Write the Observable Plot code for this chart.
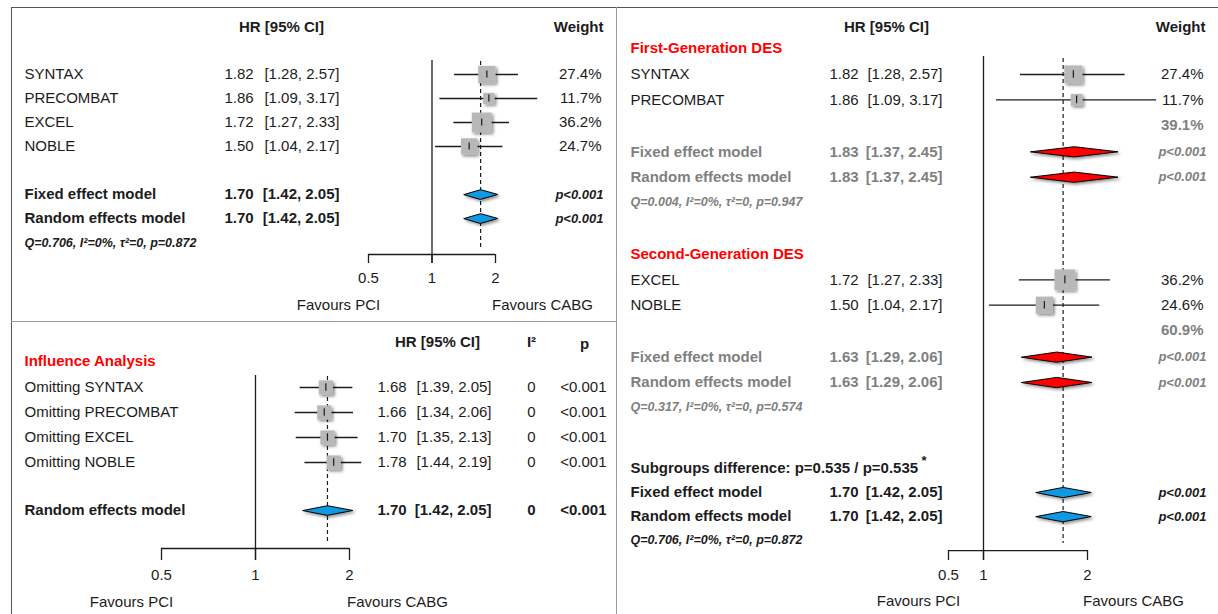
<!DOCTYPE html>
<html>
<head>
<meta charset="utf-8">
<script src="https://cdn.jsdelivr.net/npm/d3@7"></script>
<script src="https://cdn.jsdelivr.net/npm/@observablehq/plot@0.6"></script>
<style>
  body { margin: 0; background: #fff; }
  #figure { position: relative; width: 1218px; height: 614px; background: #fff; overflow: hidden; }
  .panel, .edge { position: absolute; }
  .panel svg { display: block; }
</style>
</head>
<body>
<div id="figure"></div>
<script>
// ---- Overall meta-analysis: PCI vs CABG, hazard ratios ----
const studies = ["SYNTAX", "PRECOMBAT", "EXCEL", "NOBLE"];
const studyHR = [1.82, 1.86, 1.72, 1.50];
const studyLo = [1.28, 1.09, 1.27, 1.04];
const studyHi = [2.57, 3.17, 2.33, 2.17];
const studyWeight = [27.4, 11.7, 36.2, 24.7];

const modelNames = ["Fixed effect model", "Random effects model"];
const pooledHR = 1.70;
const pooledLo = 1.42;
const pooledHi = 2.05;
const pooledI2 = 0;
const pooledP = "<0.001";
const overallHet = "Q=0.706, I²=0%, τ²=0, p=0.872";

// ---- Leave-one-out influence analysis ----
const omitHR = [1.68, 1.66, 1.70, 1.78];
const omitLo = [1.39, 1.34, 1.35, 1.44];
const omitHi = [2.05, 2.06, 2.13, 2.19];
const omitI2 = [0, 0, 0, 0];
const omitP = ["<0.001", "<0.001", "<0.001", "<0.001"];

// ---- Subgroups by stent generation ----
const subgroupTitles = ["First-Generation DES", "Second-Generation DES"];
const subgroupMembers = [["SYNTAX", "PRECOMBAT"], ["EXCEL", "NOBLE"]];
const subgroupStudyWeight = [[27.4, 11.7], [36.2, 24.6]];
const subgroupTotalWeight = [39.1, 60.9];
const subgroupHR = [1.83, 1.63];
const subgroupLo = [1.37, 1.29];
const subgroupHi = [2.45, 2.06];
const subgroupHet = ["Q=0.004, I²=0%, τ²=0, p=0.947", "Q=0.317, I²=0%, τ²=0, p=0.574"];
const subgroupDiff = "Subgroups difference: p=0.535 / p=0.535";

const axisTicks = [0.5, 1, 2];

// ---- styling ----
const FONT = "Liberation Sans, Arial, Helvetica, sans-serif";
const INK = "#1c1c1c";
const MUTED = "#7f7f7f";
const TITLE_RED = "#ff0000";
const SUB_FILL = "#ff0000";
const POOL_FILL = "#0f9ae3";
const BOX_FILL = "#b8b8b8";

const f2 = d3.format(".2f");
const f1 = d3.format(".1f");
const ciText = d => `[${f2(d.lo)}, ${f2(d.hi)}]`;
const hrText = d => f2(d.hr);

// text column placed at a pixel offset from the panel's left edge
function col(rows, x, text, o = {}) {
  return Plot.text(rows, {
    y: "slot", frameAnchor: "left", dx: x, text,
    textAnchor: o.anchor ?? "start",
    fontSize: o.size ?? 15,
    fontWeight: o.weight ?? "normal",
    fontStyle: o.style ?? "normal",
    fill: o.fill ?? INK,
    fontFamily: FONT
  });
}
const label = (slot, x, str, o) => col([{slot}], x, () => str, o);

function studyMarks(rows, r) {
  return [
    Plot.ruleY(rows, {y: "slot", x1: "lo", x2: "hi", stroke: INK, strokeWidth: 1.3}),
    Plot.dot(rows, {x: "hr", y: "slot", r, symbol: "square", fill: BOX_FILL, stroke: "none"}),
    Plot.ruleX(rows, {x: "hr", y1: d => d.slot - 0.15, y2: d => d.slot + 0.15, stroke: INK, strokeWidth: 1.2})
  ];
}

function diamonds(rows, fill, h) {
  const pts = rows.flatMap((d, i) => [
    {k: i, x: d.lo, y: d.slot},
    {k: i, x: d.hr, y: d.slot - h},
    {k: i, x: d.hi, y: d.slot},
    {k: i, x: d.hr, y: d.slot + h}
  ]);
  return Plot.line(pts, {x: "x", y: "y", z: "k", curve: "linear-closed", fill, stroke: "#000", strokeWidth: 1});
}

function refLines(top, bottom, dashTop, dashBottom) {
  return [
    Plot.ruleX([1], {x: d => d, y1: () => top, y2: () => bottom, stroke: INK, strokeWidth: 1.3}),
    Plot.ruleX([pooledHR], {x: d => d, y1: () => dashTop, y2: () => dashBottom, stroke: INK, strokeWidth: 1.2, strokeDasharray: "4,3"})
  ];
}

function axisMarks(axisSlot, tickEnd, labelSlot) {
  return [
    Plot.ruleY([axisSlot], {y: d => d, x1: () => axisTicks[0], x2: () => axisTicks[axisTicks.length - 1], stroke: INK, strokeWidth: 1.3}),
    Plot.ruleX(axisTicks, {x: d => d, y1: () => axisSlot, y2: () => tickEnd, stroke: INK, strokeWidth: 1.3}),
    Plot.text(axisTicks, {x: d => d, y: () => labelSlot, text: d => String(d), fontSize: 15, fill: INK, fontFamily: FONT})
  ];
}

function addShadow(svg, id) {
  const s = d3.select(svg);
  const f = s.insert("defs", ":first-child").append("filter")
    .attr("id", id).attr("x", "-40%").attr("y", "-80%").attr("width", "180%").attr("height", "260%");
  f.append("feDropShadow").attr("dx", 1.8).attr("dy", 1.8).attr("stdDeviation", 1.5)
    .attr("flood-color", "#000").attr("flood-opacity", 0.45);
  s.selectAll('g[aria-label="dot"], g[aria-label="line"]').attr("filter", `url(#${id})`);
}

const figure = document.getElementById("figure");
function mount(svg, left, top, id) {
  addShadow(svg, id);
  const div = document.createElement("div");
  div.className = "panel";
  div.style.left = left + "px";
  div.style.top = top + "px";
  div.appendChild(svg);
  figure.appendChild(div);
}
function edge(left, top, width, height, color) {
  const div = document.createElement("div");
  div.className = "edge";
  Object.assign(div.style, {left: left + "px", top: top + "px", width: width + "px", height: height + "px", background: color});
  figure.appendChild(div);
}

const plotStyle = {background: "transparent", overflow: "visible", fontFamily: FONT};

// ================= Overall forest plot =================
{
  const studyRows = studies.map((name, i) => ({name, hr: studyHR[i], lo: studyLo[i], hi: studyHi[i], w: studyWeight[i], slot: i}));
  const modelRows = modelNames.map((name, j) => ({name, hr: pooledHR, lo: pooledLo, hi: pooledHi, p: "p" + pooledP, slot: 5 + j}));

  const svg = Plot.plot({
    width: 604, height: 313, margin: 0,
    x: {type: "log", domain: [0.5, 2], range: [356, 483], axis: null},
    y: {type: "linear", domain: [0, 10], range: [66, 306], axis: null},
    r: {type: "sqrt", domain: [0, 100], range: [0, 18.6]},
    style: plotStyle,
    marks: [
      label(-1.96, 269, "HR [95% CI]", {anchor: "middle", weight: "bold"}),
      label(-1.96, 591, "Weight", {anchor: "end", weight: "bold"}),
      refLines(-0.58, 7.875, -0.54, 7.29),
      axisMarks(7.5, 7.875, 8.5),
      ...studyMarks(studyRows, "w"),
      diamonds(modelRows, POOL_FILL, 0.2),
      col(studyRows, 12, "name"),
      col(studyRows, 212, hrText),
      col(studyRows, 327, ciText, {anchor: "end"}),
      col(studyRows, 589, d => f1(d.w) + "%", {anchor: "end"}),
      col(modelRows, 12, "name", {weight: "bold"}),
      col(modelRows, 212, hrText, {weight: "bold"}),
      col(modelRows, 327, ciText, {anchor: "end", weight: "bold"}),
      col(modelRows, 591, "p", {anchor: "end", weight: "bold", style: "italic", size: 13}),
      label(7, 12, overallHet, {weight: "bold", style: "italic", size: 12.5}),
      label(9.625, 326, "Favours PCI", {anchor: "middle"}),
      label(9.625, 530, "Favours CABG", {anchor: "middle"})
    ]
  });
  mount(svg, 12, 8, "shadow-overall");
}

// ================= Influence analysis =================
{
  const omitRows = studies.map((name, i) => ({name: "Omitting " + name, hr: omitHR[i], lo: omitLo[i], hi: omitHi[i], i2: omitI2[i], p: omitP[i], slot: i}));
  const poolRows = [{name: modelNames[1], hr: pooledHR, lo: pooledLo, hi: pooledHi, i2: pooledI2, p: pooledP, slot: 4.92}];

  const svg = Plot.plot({
    width: 604, height: 292, margin: 0,
    x: {type: "log", domain: [0.5, 2], range: [149, 337], axis: null},
    y: {type: "linear", domain: [0, 10], range: [65, 315], axis: null},
    style: plotStyle,
    marks: [
      label(-1.8, 425, "HR [95% CI]", {anchor: "middle", weight: "bold"}),
      label(-1.8, 519, "I²", {anchor: "middle", weight: "bold"}),
      label(-1.75, 572, "p", {anchor: "middle", weight: "bold"}),
      label(-1.04, 12, "Influence Analysis", {weight: "bold", fill: TITLE_RED}),
      refLines(-0.48, 6.92, -0.44, 6.2),
      axisMarks(6.44, 6.92, 7.52),
      ...studyMarks(omitRows, 8),
      diamonds(poolRows, POOL_FILL, 0.19),
      col(omitRows, 12, "name"),
      col(omitRows, 365, hrText),
      col(omitRows, 479, ciText, {anchor: "end"}),
      col(omitRows, 519, d => String(d.i2), {anchor: "middle"}),
      col(omitRows, 594, "p", {anchor: "end"}),
      col(poolRows, 12, "name", {weight: "bold"}),
      col(poolRows, 365, hrText, {weight: "bold"}),
      col(poolRows, 479, ciText, {anchor: "end", weight: "bold"}),
      col(poolRows, 519, d => String(d.i2), {anchor: "middle", weight: "bold"}),
      col(poolRows, 594, "p", {anchor: "end", weight: "bold"}),
      label(8.6, 119, "Favours PCI", {anchor: "middle"}),
      label(8.6, 385, "Favours CABG", {anchor: "middle"})
    ]
  });
  mount(svg, 12, 322, "shadow-influence");
}

// ================= Subgroup forest plot =================
{
  const blockStart = [0, 8.1];
  const studyRows = [], totalRows = [], subModelRows = [], hetRows = [], titleRows = [];
  subgroupTitles.forEach((title, g) => {
    const s0 = blockStart[g];
    titleRows.push({name: title, slot: s0 - 1.03});
    subgroupMembers[g].forEach((name, k) => {
      const i = studies.indexOf(name);
      studyRows.push({name, hr: studyHR[i], lo: studyLo[i], hi: studyHi[i], w: subgroupStudyWeight[g][k], slot: s0 + k});
    });
    totalRows.push({w: subgroupTotalWeight[g], slot: s0 + 2});
    modelNames.forEach((name, j) => subModelRows.push({name, hr: subgroupHR[g], lo: subgroupLo[g], hi: subgroupHi[g], p: "p" + pooledP, slot: s0 + 3.05 + j}));
    hetRows.push({text: subgroupHet[g], slot: s0 + 5.02});
  });
  const overallRows = modelNames.map((name, j) => ({name, hr: pooledHR, lo: pooledLo, hi: pooledHi, p: "p" + pooledP, slot: 16.49 + 0.95 * j}));

  const svg = Plot.plot({
    width: 601, height: 606, margin: 0,
    x: {type: "log", domain: [0.5, 1, 2], range: [331, 366, 470], axis: null},
    y: {type: "linear", domain: [0, 20], range: [66, 573], axis: null},
    r: {type: "sqrt", domain: [0, 100], range: [0, 19.5]},
    style: plotStyle,
    marks: [
      label(-1.85, 269, "HR [95% CI]", {anchor: "middle", weight: "bold"}),
      label(-1.85, 588, "Weight", {anchor: "end", weight: "bold"}),
      col(titleRows, 13, "name", {weight: "bold", fill: TITLE_RED}),
      refLines(-0.71, 19.17, -0.63, 18.5),
      axisMarks(18.78, 19.17, 19.76),
      ...studyMarks(studyRows, "w"),
      diamonds(subModelRows, SUB_FILL, 0.2),
      diamonds(overallRows, POOL_FILL, 0.2),
      col(studyRows, 13, "name"),
      col(studyRows, 212, hrText),
      col(studyRows, 325, ciText, {anchor: "end"}),
      col(studyRows, 586, d => f1(d.w) + "%", {anchor: "end"}),
      col(totalRows, 586, d => f1(d.w) + "%", {anchor: "end", weight: "bold", fill: MUTED}),
      col(subModelRows, 13, "name", {weight: "bold", fill: MUTED}),
      col(subModelRows, 212, hrText, {weight: "bold", fill: MUTED}),
      col(subModelRows, 325, ciText, {anchor: "end", weight: "bold", fill: MUTED}),
      col(subModelRows, 589, "p", {anchor: "end", weight: "bold", style: "italic", size: 13, fill: MUTED}),
      col(hetRows, 13, "text", {weight: "bold", style: "italic", size: 12.5, fill: MUTED}),
      label(15.54, 13, subgroupDiff, {weight: "bold"}),
      label(15.23, 304, "*", {weight: "bold", size: 13}),
      col(overallRows, 13, "name", {weight: "bold"}),
      col(overallRows, 212, hrText, {weight: "bold"}),
      col(overallRows, 325, ciText, {anchor: "end", weight: "bold"}),
      col(overallRows, 589, "p", {anchor: "end", weight: "bold", style: "italic", size: 13}),
      label(18.38, 13, overallHet, {weight: "bold", style: "italic", size: 12.5}),
      label(20.79, 301, "Favours PCI", {anchor: "middle"}),
      label(20.79, 516, "Favours CABG", {anchor: "middle"})
    ]
  });
  mount(svg, 617, 8, "shadow-subgroup");
}

// panel frame and dividers
edge(11, 7, 1207, 1, "#555");
edge(11, 7, 1, 607, "#555");
edge(616, 7, 1, 607, "#9c9c9c");
edge(11, 321, 605, 1, "#9c9c9c");
</script>
</body>
</html>
